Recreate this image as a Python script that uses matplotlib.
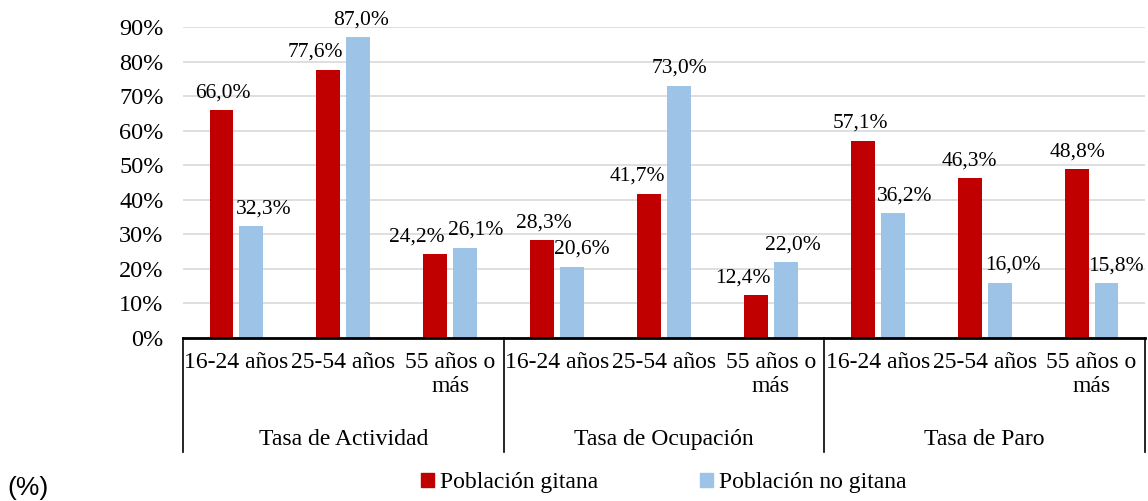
import numpy as np
import matplotlib.pyplot as plt
from matplotlib.patches import Patch
from matplotlib.ticker import FuncFormatter

plt.rcParams['font.family'] = ['Liberation Serif', 'DejaVu Serif']

# data (%)
categories = ["16-24 años", "25-54 años", "55 años o\nmás"] * 3
groups = ["Tasa de Actividad", "Tasa de Ocupación", "Tasa de Paro"]
gitana = [66.0, 77.6, 24.2, 28.3, 41.7, 12.4, 57.1, 46.3, 48.8]
no_gitana = [32.3, 87.0, 26.1, 20.6, 73.0, 22.0, 36.2, 16.0, 15.8]
series_names = ["Población gitana", "Población no gitana"]

# horizontal nudges of the value labels (px), as in the original
red_dx = [1.5, -13, -18, 1.5, -12, -13, -2, 0, 1]
blue_dx = [12, 3, 10.5, 10, 1, 7.5, 11.5, 13, 9.5]

RED = "#C00000"
BLUE = "#9DC3E6"

fig = plt.figure(figsize=(11.48, 5.01), dpi=100)
ax = fig.add_axes([183/1148, 1-338/501, (1145-183)/1148, 311/501])

x = np.arange(len(categories))
w = 0.224
off = 0.14
ax.bar(x - off, gitana, w, color=RED, zorder=3)
ax.bar(x + off, no_gitana, w, color=BLUE, zorder=3)

fmt = lambda v: f"{v:.1f}%".replace(".", ",")
for i in range(len(x)):
    ax.annotate(fmt(gitana[i]), (x[i] - off, gitana[i]), xytext=(red_dx[i]*0.72, 12.5),
                textcoords="offset points", ha="center", va="center", fontsize=15.5,
                annotation_clip=False)
    ax.annotate(fmt(no_gitana[i]), (x[i] + off, no_gitana[i]), xytext=(blue_dx[i]*0.72, 12.5),
                textcoords="offset points", ha="center", va="center", fontsize=15.5,
                annotation_clip=False)

ax.set_xlim(-0.5, len(x) - 0.5)
ax.set_ylim(0, 90)
ax.set_yticks(np.arange(0, 91, 10))
ax.yaxis.set_major_formatter(FuncFormatter(lambda v, p: f"{v:.0f}%"))
ax.tick_params(axis="y", length=0, pad=14, labelsize=17.5)
ax.set_xticks(x)
ax.set_xticklabels(categories)
ax.tick_params(axis="x", length=0, pad=10, labelsize=17)
ax.grid(axis="y", color="#D9D9D9", linewidth=1.2, zorder=0)
for s in ["left", "right", "top"]:
    ax.spines[s].set_visible(False)
ax.spines["bottom"].set_linewidth(2)
ax.spines["bottom"].set_zorder(4)

# group separators and group labels
trans = ax.get_xaxis_transform()
for b in [-0.5, 2.5, 5.5, 8.5]:
    ax.plot([b, b], [0, -114/311], color="black", linewidth=1.2, transform=trans, clip_on=False)
for g, name in enumerate(groups):
    ax.text(3*g + 1, -107/311, name, transform=trans, ha="center", va="baseline", fontsize=17)

handles = [Patch(color=RED), Patch(color=BLUE)]
fig.legend(handles, series_names, loc="center", bbox_to_anchor=(0.578, 0.036), ncol=2,
           frameon=False, fontsize=17, handlelength=0.55, handleheight=0.55,
           handletextpad=0.25, columnspacing=4.3)

fig.text(7/1148, 1-488/501, "(%)", family="Liberation Sans", fontsize=19, va="center")

fig.savefig("out.png", dpi=100)
